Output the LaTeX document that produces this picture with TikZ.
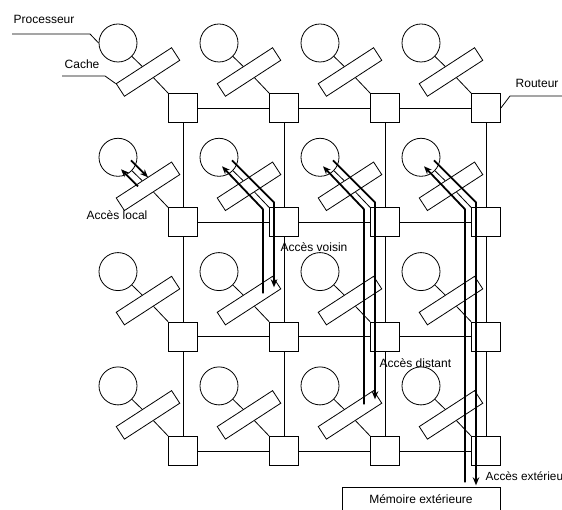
\documentclass[tikz,border=0pt]{standalone}
\usepackage{fontspec}
\setmainfont{Liberation Sans}
\usetikzlibrary{arrows.meta, calc}

\begin{document}
\begin{tikzpicture}[x=1pt, y=-1pt, >={Stealth[length=8pt, width=6.5pt]}, line width=0.8pt,
	every node/.style={font=\fontsize{12}{14}\selectfont},
	proc/.style={draw, circle, minimum size=38pt, inner sep=0pt},
	cache/.style={draw, rectangle, minimum width=66pt, minimum height=15pt, inner sep=0pt, rotate=33},
	routeur/.style={draw, rectangle, minimum size=29pt, inner sep=0pt},
	acces/.style={line width=1.8pt}]
	\useasboundingbox (0,0) rectangle (562,510);
	
	% 1. processeurs, caches et routeurs
	\foreach \i in {0,...,3} {
		\foreach \j in {0,...,3} {
			\node[routeur] (r\i\j) at ({183+101*\j}, {108+114.3*\i}) {};
			\node[proc] (p\i\j) at ({118+101*\j}, {43+114.3*\i}) {};
			\node[cache] (k\i\j) at ({148+101*\j}, {72+114.3*\i}) {};
			\draw (p\i\j) -- (k\i\j);
			\draw (k\i\j) -- (r\i\j.north west);
		}
	}
	
	% 2. grille du réseau
	\foreach \i in {0,...,3} {
		\foreach \j/\k in {0/1, 1/2, 2/3} {
			\draw (r\i\j) -- (r\i\k);
			\draw (r\j\i) -- (r\k\i);
		}
	}
	
	% 3. légendes
	\node[anchor=base west] (lproc) at (10,24) {Processeur};
	\coordinate (lp) at (12,34);
	\draw (lp) -- ++(78,0) -- (p00.west);
	\node[anchor=base west] (lcache) at (61,69) {Cache};
	\coordinate (lc) at (62,76);
	\draw (lc) -- ++(43,0) -- (k00.north west);
	\node[anchor=base west] (lrout) at (512,88) {Routeur};
	\coordinate (lr) at (562,96);
	\draw (lr) -- ++(-52,0) -- (r03.east);
	\node[draw, minimum width=158pt, minimum height=24pt, inner sep=0pt] (mem) at (421,499) {Mémoire extérieure};
	
	% 4. accès (flèches épaisses)
	\draw[acces, ->] ($(p10)+(20,29)$) -- ($(p10)+(3,12)$);
	\draw[acces, ->] ($(p10)+(13,3)$) -- ($(p10)+(30,20)$);
	\node[anchor=base west] (lloc) at (83,220) {Accès local};
	
	\draw[acces, ->] ($(p11)+(13,3)$) -- ++(42,42) -- ++(0,85);
	\draw[acces, ->] ($(p11)+(44,136)$) -- ++(0,-84) -- ++(-41,-43);
	\node[anchor=base west] (lvois) at (277,252) {Accès voisin};
	
	\draw[acces, ->] ($(p12)+(13,3)$) -- ++(42,42) -- ++(0,197);
	\draw[acces, ->] ($(p12)+(44,247)$) -- ++(0,-195) -- ++(-41,-43);
	\node[anchor=base west] (ldist) at (376,367) {Accès distant};
	
	\draw[acces, ->] ($(p13)+(13,3)$) -- ++(42,42) -- ++(0,283);
	\draw[acces, ->] ($(p13)+(44,325)$) -- ++(0,-273) -- ++(-41,-43);
	\node[anchor=base west, font=\fontsize{11.8}{14}\selectfont] (lext) at (482,480) {Accès extérieu};
\end{tikzpicture}
\end{document}
